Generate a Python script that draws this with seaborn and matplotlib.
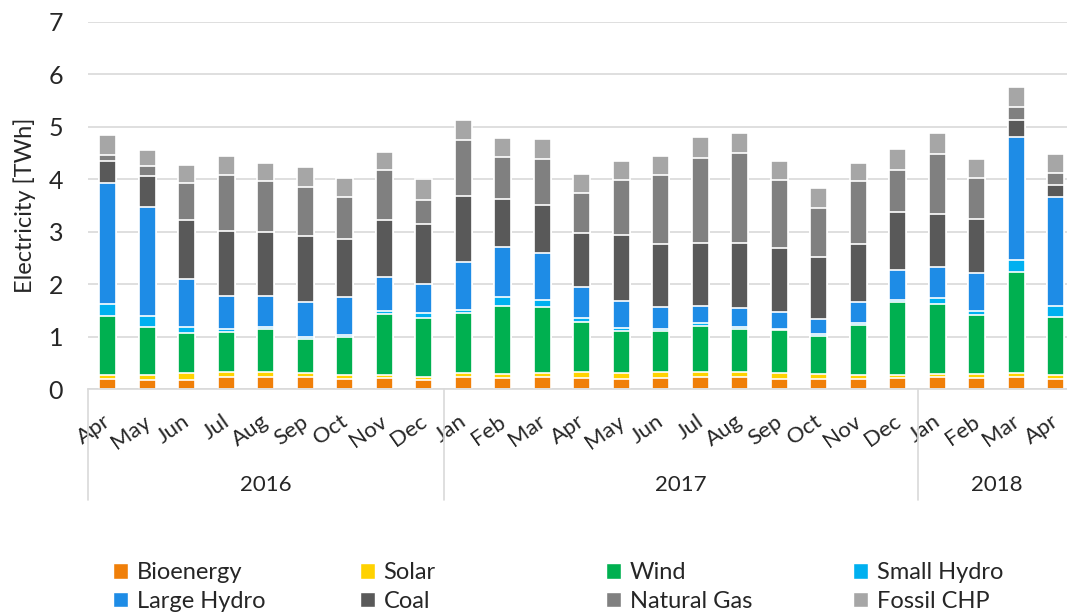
import numpy as np
import pandas as pd
import matplotlib.pyplot as plt
import matplotlib.patches as mpatches
import matplotlib.transforms as mtransforms
import seaborn as sns

# Data -----------------------------------------------------------------------#

months = ['Apr', 'May', 'Jun', 'Jul', 'Aug', 'Sep', 'Oct', 'Nov', 'Dec',
          'Jan', 'Feb', 'Mar', 'Apr', 'May', 'Jun', 'Jul', 'Aug', 'Sep', 'Oct', 'Nov', 'Dec',
          'Jan', 'Feb', 'Mar', 'Apr']
years = ['2016', '2017', '2018']
months_per_year = [9, 12, 4]

bioenergy = [0.19, 0.18, 0.18, 0.22, 0.22, 0.22, 0.20, 0.21, 0.17,
             0.23, 0.21, 0.22, 0.21, 0.20, 0.21, 0.22, 0.22, 0.20, 0.20, 0.20, 0.21,
             0.22, 0.21, 0.22, 0.20]
solar = [0.07, 0.09, 0.12, 0.11, 0.11, 0.09, 0.07, 0.05, 0.06,
         0.08, 0.08, 0.09, 0.11, 0.11, 0.11, 0.11, 0.11, 0.11, 0.09, 0.06, 0.06,
         0.07, 0.08, 0.09, 0.06]
wind = [1.14, 0.92, 0.76, 0.76, 0.81, 0.64, 0.72, 1.17, 1.13,
        1.14, 1.30, 1.26, 0.96, 0.80, 0.79, 0.87, 0.81, 0.81, 0.72, 0.96, 1.38,
        1.33, 1.12, 1.93, 1.11]
small_hydro = [0.22, 0.20, 0.12, 0.05, 0.04, 0.04, 0.04, 0.05, 0.09,
               0.05, 0.17, 0.13, 0.07, 0.06, 0.03, 0.05, 0.04, 0.03, 0.03, 0.03, 0.04,
               0.11, 0.08, 0.22, 0.22]
large_hydro = [2.30, 2.09, 0.91, 0.64, 0.59, 0.66, 0.72, 0.66, 0.55,
               0.92, 0.94, 0.90, 0.59, 0.50, 0.43, 0.34, 0.37, 0.32, 0.29, 0.40, 0.58,
               0.59, 0.72, 2.34, 2.07]
coal = [0.42, 0.58, 1.14, 1.24, 1.22, 1.26, 1.11, 1.09, 1.15,
        1.26, 0.93, 0.90, 1.03, 1.26, 1.20, 1.19, 1.23, 1.22, 1.18, 1.12, 1.11,
        1.02, 1.03, 0.33, 0.24]
natural_gas = [0.12, 0.20, 0.69, 1.06, 0.98, 0.95, 0.81, 0.95, 0.45,
               1.07, 0.80, 0.88, 0.77, 1.05, 1.32, 1.63, 1.73, 1.29, 0.95, 1.19, 0.80,
               1.14, 0.79, 0.24, 0.22]
fossil_chp = [0.39, 0.30, 0.36, 0.37, 0.35, 0.37, 0.36, 0.34, 0.40,
              0.38, 0.35, 0.38, 0.37, 0.36, 0.35, 0.39, 0.37, 0.37, 0.38, 0.36, 0.39,
              0.41, 0.36, 0.39, 0.37]

sources = ['Bioenergy', 'Solar', 'Wind', 'Small Hydro',
           'Large Hydro', 'Coal', 'Natural Gas', 'Fossil CHP']
colors = ['#F07F09', '#FFD200', '#00B050', '#00B0F0',
          '#1E8CE6', '#595959', '#808080', '#A6A6A6']

# Build long table with cumulative heights -----------------------------------#

year_of_month = [y for y, n in zip(years, months_per_year) for _ in range(n)]
keys = [f'{m} {y}' for m, y in zip(months, year_of_month)]

wide = pd.DataFrame({'Bioenergy': bioenergy, 'Solar': solar, 'Wind': wind,
                     'Small Hydro': small_hydro, 'Large Hydro': large_hydro,
                     'Coal': coal, 'Natural Gas': natural_gas,
                     'Fossil CHP': fossil_chp}, index=keys)
cum = wide[sources].cumsum(axis=1)
df = cum.reset_index(names='key').melt(id_vars='key', var_name='source', value_name='cum')

# Plot -----------------------------------------------------------------------#

sns.set_style('white')
plt.rcParams['font.family'] = ['Lato', 'DejaVu Sans']

fig = plt.figure(figsize=(10.67, 6.16), dpi=100)
ax = fig.add_axes([0.0825, 0.3685, 0.9255, 0.5958])

# draw tallest cumulative layer first so lower segments sit on top
for src, col in reversed(list(zip(sources, colors))):
    sns.barplot(data=df[df['source'] == src], x='key', y='cum', order=keys,
                color=col, saturation=1, width=0.42, edgecolor='white',
                linewidth=1.2, errorbar=None, ax=ax)

ax.set_xlim(-0.5, len(keys) - 0.5)
ax.set_ylim(0, 7)
ax.set_yticks(range(8))
ax.yaxis.grid(True, color='#D9D9D9', linewidth=1.2)
ax.set_axisbelow(True)
for s in ['top', 'right', 'left']:
    ax.spines[s].set_visible(False)
ax.spines['bottom'].set_color('#D9D9D9')
ax.spines['bottom'].set_linewidth(1.2)

ax.set_xlabel('')
ax.set_ylabel('Electricity [TWh]', fontsize=17, labelpad=9)
ax.tick_params(axis='y', length=0, labelsize=18, pad=18)
ax.tick_params(axis='x', length=0, pad=22)
ax.set_xticks(range(len(keys)))
ax.set_xticklabels(months, rotation=35, ha='right', va='center',
                   rotation_mode='anchor', fontsize=16)
offset = mtransforms.ScaledTranslation(0.01, 0, fig.dpi_scale_trans)
for lab in ax.get_xticklabels():
    lab.set_transform(lab.get_transform() + offset)

# year groups under the month labels
trans = mtransforms.blended_transform_factory(ax.transData, ax.transAxes)
edges = np.concatenate([[0], np.cumsum(months_per_year)]) - 0.5
for xe in edges:
    ax.plot([xe, xe], [0, -0.302], transform=trans, clip_on=False,
            color='#D9D9D9', linewidth=1.2)
for yr, a, b in zip(years, edges[:-1], edges[1:]):
    ax.text((a + b) / 2, -0.262, yr, transform=trans, ha='center', va='center',
            fontsize=16)

# legend: four columns of two entries each
handles = [mpatches.Patch(facecolor=c, label=s) for s, c in zip(sources, colors)]
col_x = [113, 360, 606, 853]
for i, x in enumerate(col_x):
    fig.legend(handles=[handles[i], handles[i + 4]], loc='center left',
               bbox_to_anchor=(x / 1067, 0.047), frameon=False, fontsize=17,
               handlelength=0.65, handleheight=0.65, handletextpad=0.35,
               labelspacing=0.32, borderpad=0, borderaxespad=0)

fig.savefig('out.png', dpi=100)
